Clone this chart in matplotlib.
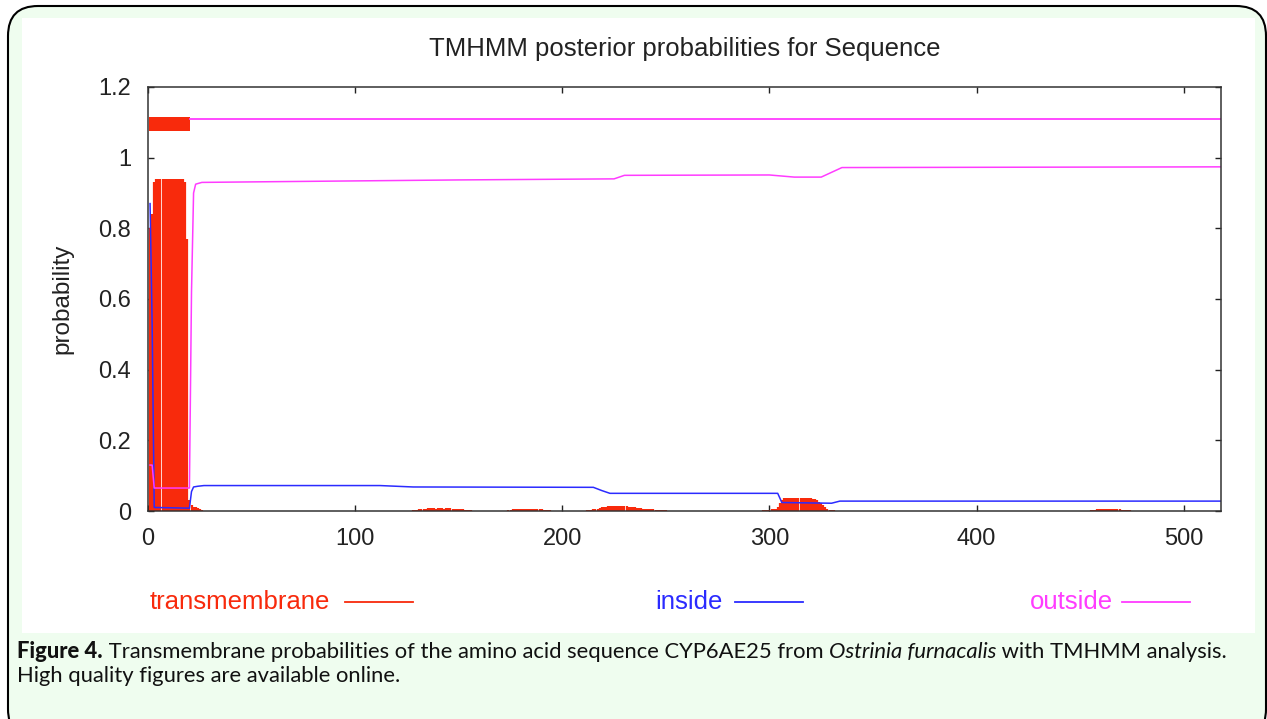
import matplotlib.pyplot as plt
import numpy as np
from matplotlib.patches import FancyBboxPatch, Rectangle
from matplotlib.ticker import FuncFormatter

# sequence length and predicted topology (segments of residues)
seq_len = 518
topology = [("transmembrane", 1, 20), ("outside", 21, 518)]

# transmembrane posterior probability, drawn as impulses
tm_res = list(range(1, 27))
tm_prob = [0.80, 0.84, 0.93, 0.94, 0.94, 0.94, 0.94, 0.94, 0.94, 0.94,
           0.94, 0.94, 0.94, 0.94, 0.94, 0.94, 0.94, 0.93, 0.77, 0.03,
           0.018, 0.012, 0.010, 0.008, 0.005, 0.003]

bump_a_res = list(range(128, 157))
bump_a = [0.002, 0.003, 0.004, 0.005, 0.006, 0.007, 0.007, 0.008, 0.008, 0.008,
          0.008, 0.007, 0.008, 0.008, 0.008, 0.007, 0.008, 0.008, 0.008, 0.007,
          0.007, 0.006, 0.006, 0.005, 0.005, 0.004, 0.004, 0.003, 0.002]
bump_b_res = list(range(174, 195))
bump_b = [0.003, 0.004, 0.005, 0.005, 0.005, 0.006, 0.005, 0.005, 0.005, 0.006,
          0.005, 0.005, 0.005, 0.006, 0.005, 0.005, 0.005, 0.004, 0.004, 0.003, 0.002]
bump_c_res = list(range(212, 251))
bump_c = [0.002, 0.003, 0.004, 0.005, 0.006, 0.007, 0.008, 0.010, 0.011, 0.012,
          0.013, 0.014, 0.014, 0.014, 0.013, 0.014, 0.014, 0.013, 0.014, 0.013,
          0.012, 0.011, 0.010, 0.010, 0.009, 0.008, 0.008, 0.007, 0.006, 0.006,
          0.005, 0.005, 0.005, 0.004, 0.004, 0.004, 0.004, 0.003, 0.002]
bump_d_res = list(range(297, 334))
bump_d = [0.003, 0.004, 0.004, 0.004, 0.005, 0.005, 0.006, 0.010, 0.022, 0.032,
          0.036, 0.037, 0.037, 0.036, 0.037, 0.038, 0.038, 0.037, 0.038, 0.038,
          0.037, 0.038, 0.037, 0.036, 0.035, 0.033, 0.030, 0.026, 0.022, 0.016,
          0.010, 0.006, 0.003, 0.002, 0.002, 0.001, 0.001]
bump_e_res = list(range(455, 475))
bump_e = [0.002, 0.003, 0.004, 0.005, 0.005, 0.006, 0.005, 0.005, 0.006, 0.005,
          0.005, 0.005, 0.006, 0.005, 0.005, 0.004, 0.004, 0.003, 0.003, 0.002]

# inside posterior probability (residue, value)
inside_res = [1, 2, 3, 20, 21, 22, 24, 27, 112, 128, 215, 219, 223, 304, 306, 330, 334, 518]
inside_prob = [0.87, 0.53, 0.01, 0.008, 0.055, 0.068, 0.070, 0.072, 0.072, 0.068,
               0.067, 0.058, 0.050, 0.050, 0.024, 0.022, 0.028, 0.028]

# outside posterior probability (residue, value)
outside_res = [1, 2, 3, 20, 21, 22, 23, 26, 60, 150, 225, 230, 300, 312, 325, 335, 518]
outside_prob = [0.13, 0.13, 0.065, 0.065, 0.62, 0.90, 0.925, 0.93, 0.932, 0.937,
                0.940, 0.950, 0.951, 0.945, 0.945, 0.972, 0.974]

RED = "#f82a0c"
BLUE = "#2b2bff"
MAGENTA = "#ff3cff"

W, H = 1267, 719
fig = plt.figure(figsize=(W / 100, H / 100), dpi=100)
fig.patch.set_facecolor("white")

# rounded green caption box and white picture area (pixel coords -> inches)
box = FancyBboxPatch((0.08, -0.2), 12.58, 7.33,
                     boxstyle="round,pad=0,rounding_size=0.3",
                     transform=fig.dpi_scale_trans, facecolor="#effdef",
                     edgecolor="black", linewidth=1.5, zorder=0)
fig.patches.append(box)
fig.patches.append(Rectangle((0.22, (H - 633) / 100), 12.33, 6.15,
                             transform=fig.dpi_scale_trans, facecolor="white",
                             edgecolor="none", zorder=1))

ax = fig.add_axes([148 / W, 1 - 511 / H, (1221 - 148) / W, (511 - 87) / H])
ax.set_facecolor("white")
ax.set_zorder(2)

font = "Liberation Sans"

# impulses for transmembrane probability
for r, p in [(tm_res, tm_prob), (bump_a_res, bump_a), (bump_b_res, bump_b),
             (bump_c_res, bump_c), (bump_d_res, bump_d), (bump_e_res, bump_e)]:
    ax.vlines(r, 0, p, color=RED, linewidth=1.6)

ax.plot(inside_res, inside_prob, color=BLUE, linewidth=1.1)
ax.plot(outside_res, outside_prob, color=MAGENTA, linewidth=1.1)

# predicted topology across the top
for kind, start, end in topology:
    if kind == "transmembrane":
        ax.fill_between([start - 0.5, end + 0.5], 1.075, 1.115, color=RED, linewidth=0)
    elif kind == "outside":
        ax.plot([start - 0.5, end], [1.11, 1.11], color=MAGENTA, linewidth=1.3)
    else:
        ax.plot([start - 0.5, end], [1.09, 1.09], color=BLUE, linewidth=1.3)

ax.set_xlim(0, seq_len)
ax.set_ylim(0, 1.2)
ax.set_xticks([0, 100, 200, 300, 400, 500])
ax.set_yticks([0, 0.2, 0.4, 0.6, 0.8, 1.0, 1.2])
ax.yaxis.set_major_formatter(FuncFormatter(lambda v, p: "%g" % v))
ax.tick_params(direction="in", length=4.5, width=1, top=True, right=True,
               labelsize=17, pad=12, colors="#222222")
for lab in ax.get_xticklabels() + ax.get_yticklabels():
    lab.set_fontfamily(font)
for sp in ax.spines.values():
    sp.set_linewidth(1.1)
    sp.set_color("#333333")

ax.set_title("TMHMM posterior probabilities for Sequence", fontsize=18.5,
             family=font, color="#222222", pad=22)
ax.set_ylabel("probability", fontsize=17.5, family=font, color="#222222", labelpad=18)

# legend row under the plot
legend_items = [("transmembrane", RED, 150, 345), ("inside", BLUE, 655, 735),
                ("outside", MAGENTA, 1030, 1122)]
for label, col, tx, lx in legend_items:
    fig.text(tx / W, 1 - 602 / H, label, color=col, fontsize=18.5, family=font,
             va="center", ha="left", zorder=3)
    fig.add_artist(plt.Line2D([lx / W, (lx + 68) / W], [1 - 602 / H, 1 - 602 / H],
                              color=col, linewidth=1.3, transform=fig.transFigure))

# caption
cap_font = "Lato"
cap_size = 15.8
renderer = fig.canvas.get_renderer()
parts = [("Figure 4.", "black", "normal"),
         (" Transmembrane probabilities of the amino acid sequence CYP6AE25 from ", "normal", "normal"),
         ("Ostrinia furnacalis", "normal", "italic"),
         (" with TMHMM analysis.", "normal", "normal")]
x = 17
y1 = 1 - 652 / H
for txt, wt, st in parts:
    t = fig.text(x / W, y1, txt, fontsize=cap_size, family=cap_font, weight=wt,
                 style=st, va="center", ha="left", color="#111111", zorder=3)
    x += t.get_window_extent(renderer).width
fig.text(17 / W, 1 - 676 / H, "High quality figures are available online.",
         fontsize=cap_size, family=cap_font, va="center", ha="left",
         color="#111111", zorder=3)

fig.savefig("out.png", dpi=100, facecolor="white")
